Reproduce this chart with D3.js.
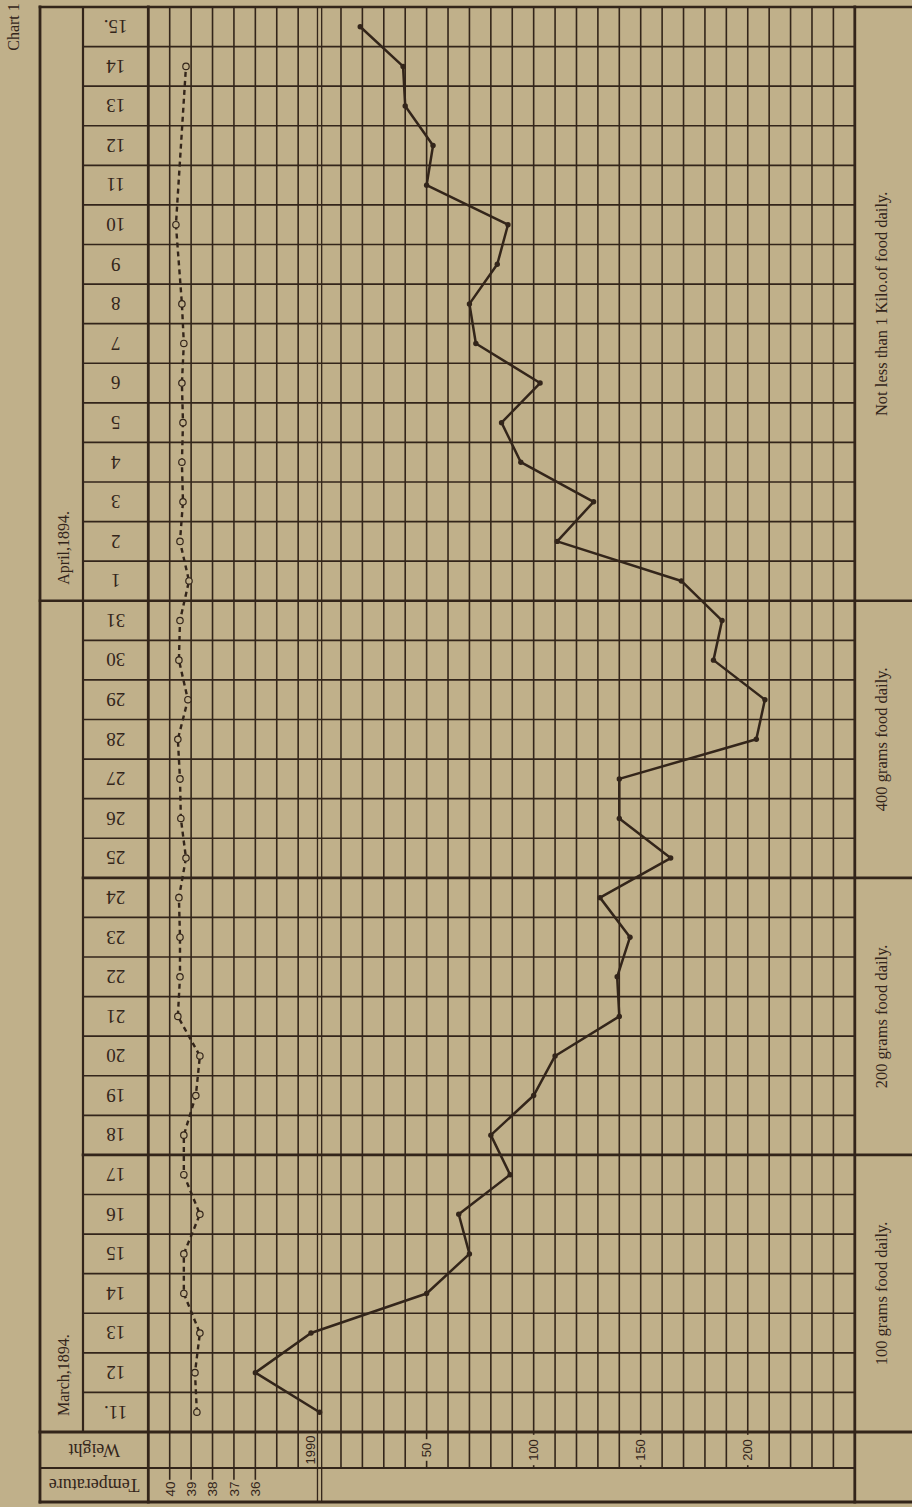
<!DOCTYPE html>
<html>
<head>
<meta charset="utf-8">
<title>Chart 1</title>
<script src="https://cdn.jsdelivr.net/npm/d3@7"></script>
<style>
  html, body { margin: 0; padding: 0; background: #c0b08a; }
  svg { display: block; }
</style>
</head>
<body>
<svg id="chart" width="912" height="1507"></svg>
<script>
// ---- data -------------------------------------------------------------
// One entry per day, March 11 to April 15, 1894 (oldest first)
const dayLabels = ["11.", "12", "13", "14", "15", "16", "17", "18", "19", "20",
  "21", "22", "23", "24", "25", "26", "27", "28", "29", "30", "31",
  "1", "2", "3", "4", "5", "6", "7", "8", "9", "10", "11", "12", "13", "14", "15."];

// Weight, plotted on the weight scale (1990 line = 0)
const weight = [0, -30, -4, 50, 70, 65, 89, 80, 100, 110,
  140, 139, 145, 131, 164, 140, 140, 204, 208, 184, 188,
  169, 111, 128, 94, 85, 103, 73, 70, 83, 88, 50, 53, 40, 39, 19];

// Body temperature, °C (null = not recorded)
const temperature = [38.73, 38.82, 38.59, 39.34, 39.34, 38.59, 39.34, 39.34, 38.78, 38.59,
  39.62, 39.52, 39.52, 39.57, 39.24, 39.48, 39.52, 39.62, 39.15, 39.57, 39.52,
  39.1, 39.52, 39.38, 39.43, 39.38, 39.43, 39.34, 39.43, null, 39.71, null, null, null, 39.24, null];

const months = ["March,1894.", "April,1894."];
const monthStart = [0, 21];               // index of each month's first day

const diets = ["100 grams food daily.", "200 grams food daily.",
  "400 grams food daily.", "Not less than 1 Kilo.of food daily."];
const dietStart = [0, 7, 14, 21];          // index of the day each diet begins

const weightTicks = [0, 50, 100, 150, 200];
const weightTickLabels = ["1990", "50", "100", "150", "200"];
const tempTicks = [40, 39, 38, 37, 36];
const tempTickLabels = ["40", "39", "38", "37", "36"];

// ---- layout -----------------------------------------------------------
const INK = "#33251a";
const PAPER = "#c0b08a";
const SERIF = "'Liberation Serif', 'DejaVu Serif', serif";
const SANS = "'Liberation Sans', 'DejaVu Sans', sans-serif";

const X = { outer: 40, month: 83, grid0: 148.3, grid1: 854.8, right: 912 };
const Y = { top: 7, rows: 1432, weightRow: 1468, bottom: 1502 };

const n = dayLabels.length;
const idx = d3.range(n);

// days run upward: the first day sits at the bottom of the grid
const yDay = d3.scaleBand().domain(idx).range([Y.rows, Y.top]).paddingInner(0).paddingOuter(0);
const bw = yDay.bandwidth();
const yMid = i => yDay(i) + bw / 2;
const yBottom = i => yDay(i) + bw;

const xW = d3.scaleLinear().domain([-80, 250]).range([X.grid0, X.grid1]);
const xT = d3.scaleLinear().domain([41, 8]).range([X.grid0, X.grid1]);

const svg = d3.select("#chart");
svg.append("rect").attr("width", 912).attr("height", 1507).attr("fill", PAPER);

const g = svg.append("g").attr("stroke-linecap", "square");

function hline(y, x1, x2, w) {
  g.append("line").attr("x1", x1).attr("x2", x2).attr("y1", y).attr("y2", y)
    .attr("stroke", INK).attr("stroke-width", w);
}
function vline(x, y1, y2, w) {
  g.append("line").attr("x1", x).attr("x2", x).attr("y1", y1).attr("y2", y2)
    .attr("stroke", INK).attr("stroke-width", w);
}

// ---- grid -------------------------------------------------------------
// vertical rulings, one every 10 units of the weight scale
const colValues = d3.range(-70, 250, 10).filter(v => v !== 0);
g.selectAll("line.col").data(colValues).join("line")
  .attr("class", "col")
  .attr("x1", d => xW(d)).attr("x2", d => xW(d))
  .attr("y1", Y.top).attr("y2", Y.weightRow)
  .attr("stroke", INK).attr("stroke-width", 1.6);

// day rulings
const boundaries = d3.range(1, n);
const phaseBreaks = new Set(dietStart.slice(1));
const monthBreaks = new Set(monthStart.slice(1));
boundaries.forEach(i => {
  const y = yBottom(i);
  if (phaseBreaks.has(i)) {
    hline(y, monthBreaks.has(i) ? X.outer : X.month, X.right, 2.6);
  } else {
    hline(y, X.month, X.grid1, 1.6);
  }
});

// frame
hline(Y.top, X.outer, X.right, 2.6);
hline(Y.rows, X.outer, X.right, 2.8);
hline(Y.weightRow, X.outer, X.grid1, 2);
hline(Y.bottom, X.outer, X.right, 2.8);
vline(X.outer, Y.top, Y.bottom, 2.8);
vline(X.month, Y.top, Y.rows, 2.2);
vline(X.grid0, Y.top, Y.bottom, 2.8);
vline(X.grid1, Y.top, Y.bottom, 2.8);

// the 1990 starting line is ruled double and runs through the footer
vline(xW(0) - 2.1, Y.top, Y.bottom, 1.3);
vline(xW(0) + 2.1, Y.top, Y.bottom, 1.3);

// ---- weight scale labels ---------------------------------------------
const wl = g.selectAll("g.wtick").data(weightTicks).join("g")
  .attr("class", "wtick")
  .attr("transform", (d, i) => `translate(${xW(d) + (i === 0 ? -9 : 0)},${(Y.rows + Y.weightRow) / 2}) rotate(-90)`);
wl.filter((d, i) => i > 0).append("rect")
  .attr("x", (d, i) => -weightTickLabels[i + 1].length * 4.4 - 2)
  .attr("width", (d, i) => weightTickLabels[i + 1].length * 8.8 + 4)
  .attr("y", -6).attr("height", 12).attr("fill", PAPER);
wl.append("text")
  .attr("text-anchor", "middle").attr("dy", "0.36em")
  .attr("font-family", SANS).attr("font-size", 13).attr("fill", INK)
  .text((d, i) => weightTickLabels[i]);

// ---- temperature scale ------------------------------------------------
g.selectAll("line.ttick").data(tempTicks).join("line")
  .attr("class", "ttick")
  .attr("x1", d => xT(d)).attr("x2", d => xT(d))
  .attr("y1", Y.weightRow).attr("y2", Y.weightRow + 11)
  .attr("stroke", INK).attr("stroke-width", 1.6);
g.selectAll("text.tlab").data(tempTicks).join("text")
  .attr("class", "tlab")
  .attr("transform", d => `translate(${xT(d)},${Y.weightRow + 21}) rotate(-90)`)
  .attr("text-anchor", "middle").attr("dy", "0.36em")
  .attr("font-family", SANS).attr("font-size", 13.5).attr("fill", INK)
  .text((d, i) => tempTickLabels[i]);

// ---- text columns -----------------------------------------------------
const txt = (x, y, rot, s, size, anchor) =>
  svg.append("text")
    .attr("transform", `translate(${x},${y}) rotate(${rot})`)
    .attr("text-anchor", anchor || "middle").attr("dy", "0.35em")
    .attr("font-family", SERIF).attr("font-size", size).attr("fill", INK)
    .text(s);

txt(13, 27, -90, "Chart 1", 16);

months.forEach((m, k) => txt(63, yBottom(monthStart[k]) - 16, -90, m, 16, "start"));

svg.selectAll("text.day").data(idx).join("text")
  .attr("class", "day")
  .attr("transform", i => `translate(${(X.month + X.grid0) / 2},${yMid(i)}) rotate(180)`)
  .attr("text-anchor", "middle").attr("dy", "0.35em")
  .attr("font-family", SERIF).attr("font-size", 19).attr("fill", INK)
  .text(i => dayLabels[i]);

txt((X.outer + X.grid0) / 2, (Y.rows + Y.weightRow) / 2, 180, "Weight", 18);
txt((X.outer + X.grid0) / 2, (Y.weightRow + Y.bottom) / 2, 180, "Temperature", 18);

dietStart.forEach((s, k) => {
  const end = k + 1 < dietStart.length ? dietStart[k + 1] : n;
  const yc = (yBottom(s) + yDay(end - 1)) / 2;
  txt(881, yc, -90, diets[k], 16.5);
});

// ---- temperature curve (dashed, open rings) ---------------------------
const tPts = idx.filter(i => temperature[i] != null).map(i => ({ i, t: temperature[i] }));
svg.append("path")
  .datum(tPts)
  .attr("d", d3.line().x(d => xT(d.t)).y(d => yMid(d.i)))
  .attr("fill", "none").attr("stroke", INK).attr("stroke-width", 2.4)
  .attr("stroke-dasharray", "5,4");
svg.selectAll("circle.t").data(tPts).join("circle")
  .attr("class", "t")
  .attr("cx", d => xT(d.t)).attr("cy", d => yMid(d.i)).attr("r", 3.2)
  .attr("fill", PAPER).attr("stroke", INK).attr("stroke-width", 1.2);

// ---- weight curve -----------------------------------------------------
const wPts = idx.map(i => ({ i, w: weight[i] }));
svg.append("path")
  .datum(wPts)
  .attr("d", d3.line().x(d => xW(d.w)).y(d => yMid(d.i)))
  .attr("fill", "none").attr("stroke", INK).attr("stroke-width", 2.5)
  .attr("stroke-linejoin", "round");
svg.selectAll("circle.w").data(wPts).join("circle")
  .attr("class", "w")
  .attr("cx", d => xW(d.w)).attr("cy", d => yMid(d.i)).attr("r", 2.7)
  .attr("fill", INK);
</script>
</body>
</html>
